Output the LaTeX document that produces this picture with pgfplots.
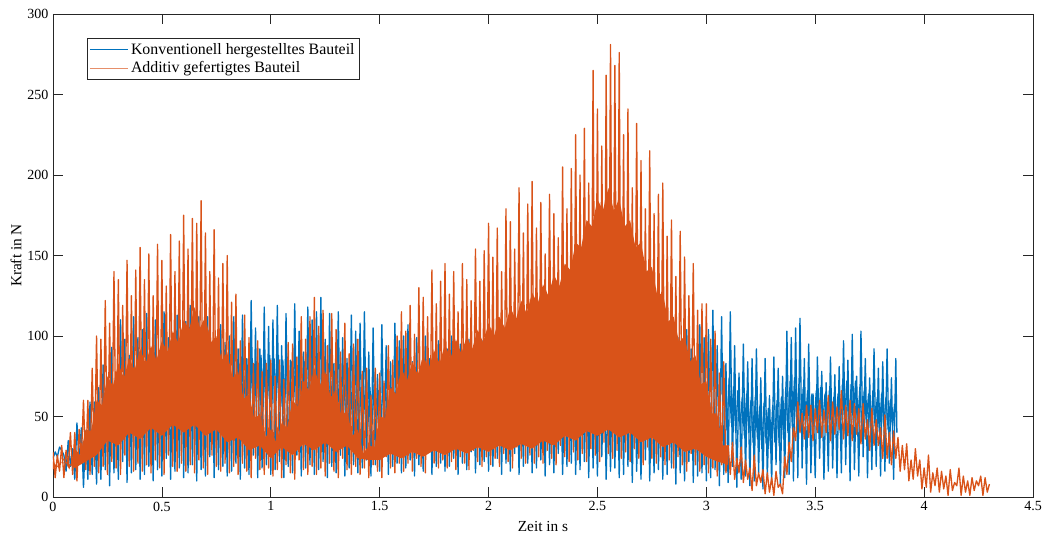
\documentclass[border=0pt]{standalone}
\usepackage{fontspec}
\setmainfont{Liberation Serif}
\usepackage{pgfplots}
\pgfplotsset{compat=1.18}
\definecolor{mblue}{HTML}{0072BD}
\definecolor{morange}{HTML}{D95319}
\definecolor{axgray}{HTML}{262626}
\begin{document}
\begin{tikzpicture}
\begin{axis}[
  scale only axis, width=735pt, height=362.25pt,
  xmin=0, xmax=4.5, ymin=0, ymax=300,
  xtick={0,0.5,1,1.5,2,2.5,3,3.5,4,4.5},
  ytick={0,50,100,150,200,250,300},
  tick align=inside, major tick length=7.35pt,
  axis line style={color=axgray, line width=0.5pt},
  tick style={color=axgray, line width=0.5pt},
  /pgf/number format/assume math mode=true,
  ticklabel style={font=\fontsize{10.5}{12}\selectfont, color=black},
  xlabel={Zeit in s}, ylabel={Kraft in N},
  label style={font=\fontsize{11.5}{13}\selectfont},
  xlabel style={at={(axis description cs:0.5,-0.062)}, anchor=center},
  ylabel style={at={(axis description cs:-0.0378,0.5)}, anchor=center},
  legend style={at={(axis description cs:0.0347,0.950)}, anchor=north west,
    draw=axgray, line width=0.5pt, font=\fontsize{11.9}{14}\selectfont,
    inner sep=1.5pt, fill=white},
  legend cell align=left,
  legend image code/.code={\draw[#1] (0cm,0cm) -- (1.0cm,0cm);},
]
% blue dense band 0.85-1.6
\addplot[mblue, line width=1.0pt, line join=round, forget plot] coordinates {
(0.855,72)(0.865,52)(0.875,78)(0.885,56)(0.895,82)(0.905,58)(0.915,86)(0.925,54)(0.935,84)(0.945,60)(0.955,88)(0.965,56)(0.975,85)(0.985,62)(0.995,88)(1.005,58)(1.015,86)(1.025,60)(1.035,88)(1.045,56)(1.055,85)(1.065,62)(1.075,87)(1.085,58)(1.095,84)(1.105,60)(1.115,86)(1.125,56)(1.135,82)(1.145,58)(1.155,84)(1.165,54)(1.175,80)(1.185,56)(1.195,82)(1.205,52)(1.215,78)(1.225,54)(1.235,80)(1.245,50)(1.255,76)(1.265,52)(1.275,74)(1.285,48)(1.295,76)(1.305,50)(1.315,72)(1.325,46)(1.335,74)(1.345,48)(1.355,70)(1.365,44)(1.375,72)(1.385,47)(1.395,70)(1.405,44)(1.415,68)(1.425,46)(1.435,70)(1.445,42)(1.455,68)(1.465,45)(1.475,70)(1.485,44)(1.495,66)(1.505,46)(1.515,68)(1.525,42)(1.535,66)(1.545,44)(1.555,64)(1.565,40)(1.575,66)(1.585,42)(1.595,62)
};
% blue dense band 3.08-3.87
\addplot[mblue, line width=1.0pt, line join=round, forget plot] coordinates {
(3.085,70)(3.095,42)(3.105,74)(3.115,46)(3.125,68)(3.135,40)(3.145,66)(3.155,44)(3.165,62)(3.175,38)(3.185,64)(3.195,40)(3.205,60)(3.215,34)(3.225,62)(3.235,36)(3.245,56)(3.255,30)(3.265,58)(3.275,33)(3.285,55)(3.295,30)(3.305,57)(3.315,34)(3.325,60)(3.335,32)(3.345,62)(3.355,36)(3.365,68)(3.375,40)(3.385,72)(3.395,44)(3.405,74)(3.415,46)(3.425,70)(3.435,42)(3.445,68)(3.455,45)(3.465,66)(3.475,40)(3.485,64)(3.495,44)(3.505,66)(3.515,40)(3.525,68)(3.535,46)(3.545,64)(3.555,42)(3.565,66)(3.575,40)(3.585,62)(3.595,44)(3.605,64)(3.615,40)(3.625,70)(3.635,46)(3.645,72)(3.655,42)(3.665,70)(3.675,46)(3.685,72)(3.695,44)(3.705,68)(3.715,42)(3.725,66)(3.735,46)(3.745,64)(3.755,40)(3.765,66)(3.775,44)(3.785,62)(3.795,40)(3.805,64)(3.815,44)(3.825,62)(3.835,42)(3.845,60)(3.855,44)(3.865,58)
};
% blue signal
\addplot[mblue, line width=1.0pt, line join=round, forget plot] coordinates {
(0,24)(0.01,28)(0.02,25)(0.03,31)(0.04,29)(0.05,26)(0.06,16)(0.07,35)(0.08,19)(0.09,30)
(0.1,11)(0.11,46)(0.12,21)(0.13,43)(0.14,6)(0.15,41)(0.16,11)(0.17,59)(0.18,14)(0.19,59)
(0.2,8)(0.21,68)(0.22,11)(0.23,82)(0.24,17)(0.25,72)(0.26,7)(0.27,93)(0.28,15)(0.29,74)
(0.3,11)(0.31,110)(0.32,22)(0.33,98)(0.34,9)(0.35,88)(0.36,15)(0.37,112)(0.38,17)(0.39,99)
(0.4,11)(0.41,104)(0.42,14)(0.43,114)(0.44,19)(0.45,92)(0.46,10)(0.47,110)(0.48,17)(0.49,82)
(0.5,13)(0.51,115)(0.52,24)(0.53,99)(0.54,11)(0.55,86)(0.56,16)(0.57,113)(0.58,18)(0.59,103)
(0.6,12)(0.61,109)(0.62,15)(0.63,119)(0.64,20)(0.65,96)(0.66,10)(0.67,112)(0.68,17)(0.69,81)
(0.7,13)(0.71,112)(0.72,25)(0.73,96)(0.74,12)(0.75,84)(0.76,17)(0.77,107)(0.78,19)(0.79,96)
(0.8,13)(0.81,100)(0.82,16)(0.83,112)(0.84,21)(0.85,92)(0.86,11)(0.87,113)(0.88,18)(0.89,86)
(0.9,14)(0.91,122)(0.92,26)(0.93,105)(0.94,12)(0.95,92)(0.96,18)(0.97,118)(0.98,20)(0.99,106)
(1,14)(1.01,110)(1.02,17)(1.03,119)(1.04,22)(1.05,94)(1.06,12)(1.07,114)(1.08,19)(1.09,85)
(1.1,15)(1.11,120)(1.12,26)(1.13,103)(1.14,13)(1.15,90)(1.16,18)(1.17,118)(1.18,20)(1.19,110)
(1.2,14)(1.21,115)(1.22,17)(1.23,124)(1.24,22)(1.25,98)(1.26,12)(1.27,114)(1.28,19)(1.29,83)
(1.3,15)(1.31,115)(1.32,26)(1.33,99)(1.34,13)(1.35,86)(1.36,18)(1.37,113)(1.38,20)(1.39,103)
(1.4,15)(1.41,108)(1.42,18)(1.43,115)(1.44,23)(1.45,90)(1.46,13)(1.47,105)(1.48,20)(1.49,76)
(1.5,16)(1.51,107)(1.52,27)(1.53,94)(1.54,14)(1.55,84)(1.56,19)(1.57,108)(1.58,21)(1.59,97)
(1.6,15)(1.61,100)(1.62,18)(1.63,107)(1.64,23)(1.65,84)(1.66,13)(1.67,99)(1.68,20)(1.69,72)
(1.7,16)(1.71,100)(1.72,27)(1.73,86)(1.74,14)(1.75,76)(1.76,19)(1.77,97)(1.78,21)(1.79,88)
(1.8,16)(1.81,92)(1.82,19)(1.83,100)(1.84,24)(1.85,80)(1.86,14)(1.87,95)(1.88,21)(1.89,70)
(1.9,17)(1.91,98)(1.92,28)(1.93,85)(1.94,15)(1.95,75)(1.96,20)(1.97,97)(1.98,22)(1.99,88)
(2,16)(2.01,92)(2.02,19)(2.03,100)(2.04,24)(2.05,80)(2.06,14)(2.07,95)(2.08,21)(2.09,70)
(2.1,16)(2.11,98)(2.12,27)(2.13,85)(2.14,14)(2.15,75)(2.16,19)(2.17,97)(2.18,21)(2.19,88)
(2.2,15)(2.21,92)(2.22,18)(2.23,100)(2.24,23)(2.25,80)(2.26,13)(2.27,95)(2.28,20)(2.29,70)
(2.3,15)(2.31,98)(2.32,27)(2.33,85)(2.34,14)(2.35,75)(2.36,19)(2.37,97)(2.38,21)(2.39,88)
(2.4,14)(2.41,92)(2.42,17)(2.43,100)(2.44,22)(2.45,80)(2.46,12)(2.47,95)(2.48,18)(2.49,70)
(2.5,13)(2.51,98)(2.52,25)(2.53,85)(2.54,11)(2.55,75)(2.56,16)(2.57,97)(2.58,18)(2.59,88)
(2.6,12)(2.61,92)(2.62,14)(2.63,100)(2.64,19)(2.65,80)(2.66,9)(2.67,95)(2.68,16)(2.69,70)
(2.7,11)(2.71,98)(2.72,23)(2.73,85)(2.74,10)(2.75,75)(2.76,15)(2.77,97)(2.78,17)(2.79,88)
(2.8,11)(2.81,94)(2.82,14)(2.83,103)(2.84,18)(2.85,83)(2.86,8)(2.87,99)(2.88,15)(2.89,74)
(2.9,10)(2.91,104)(2.92,22)(2.93,92)(2.94,9)(2.95,82)(2.96,13)(2.97,107)(2.98,15)(2.99,99)
(3,10)(3.01,104)(3.02,12)(3.03,116)(3.04,17)(3.05,94)(3.06,7)(3.07,112)(3.08,14)(3.09,83)
(3.1,9)(3.11,115)(3.12,19)(3.13,94)(3.14,6)(3.15,77)(3.16,11)(3.17,95)(3.18,13)(3.19,84)
(3.2,7)(3.21,86)(3.22,10)(3.23,92)(3.24,15)(3.25,74)(3.26,5)(3.27,86)(3.28,12)(3.29,63)
(3.3,8)(3.31,87)(3.32,20)(3.33,80)(3.34,7)(3.35,75)(3.36,12)(3.37,103)(3.38,14)(3.39,99)
(3.4,10)(3.41,105)(3.42,12)(3.43,111)(3.44,18)(3.45,86)(3.46,8)(3.47,95)(3.48,15)(3.49,64)
(3.5,12)(3.51,87)(3.52,24)(3.53,78)(3.54,11)(3.55,71)(3.56,16)(3.57,87)(3.58,18)(3.59,76)
(3.6,12)(3.61,81)(3.62,15)(3.63,97)(3.64,20)(3.65,85)(3.66,10)(3.67,101)(3.68,17)(3.69,75)
(3.7,13)(3.71,103)(3.72,25)(3.73,86)(3.74,12)(3.75,74)(3.76,17)(3.77,92)(3.78,19)(3.79,80)
(3.8,13)(3.81,84)(3.82,16)(3.83,92)(3.84,21)(3.85,74)(3.86,11)(3.87,86)(3.875,40)
};
% orange dense core
\addplot[fill=morange, draw=none, forget plot] coordinates {
(0,22)(0.025,18)(0.05,24)(0.075,17)(0.1,30)(0.125,26)(0.15,42)(0.175,41)(0.2,60)(0.225,57)(0.25,75)(0.275,69)(0.3,83)(0.325,74)(0.35,86)(0.375,79)(0.4,92)(0.425,83)(0.45,94)(0.475,85)(0.5,97)(0.525,90)(0.55,103)(0.575,96)(0.6,110)(0.625,104)(0.65,118)(0.675,105)(0.7,112)(0.725,96)(0.75,100)(0.775,85)(0.8,90)(0.825,74)(0.85,78)(0.875,61)(0.9,64)(0.925,48)(0.95,52)(0.975,37)(1,42)(1.025,34)(1.05,46)(1.075,43)(1.1,60)(1.125,56)(1.15,72)(1.175,66)(1.2,80)(1.225,69)(1.25,78)(1.275,62)(1.3,66)(1.325,50)(1.35,54)(1.375,38)(1.4,42)(1.425,27)(1.45,32)(1.475,31)(1.5,50)(1.525,49)(1.55,68)(1.575,64)(1.6,80)(1.625,72)(1.65,84)(1.675,76)(1.7,88)(1.725,80)(1.75,91)(1.775,83)(1.8,95)(1.825,86)(1.85,98)(1.875,89)(1.9,100)(1.925,92)(1.95,104)(1.975,96)(2,108)(2.025,100)(2.05,112)(2.075,105)(2.1,118)(2.125,110)(2.15,122)(2.175,114)(2.2,127)(2.225,120)(2.25,132)(2.275,125)(2.3,138)(2.325,131)(2.35,145)(2.375,141)(2.4,158)(2.425,155)(2.45,172)(2.475,168)(2.5,185)(2.525,178)(2.55,192)(2.575,178)(2.6,185)(2.625,168)(2.65,172)(2.675,155)(2.7,158)(2.725,140)(2.75,143)(2.775,125)(2.8,127)(2.825,109)(2.85,112)(2.875,96)(2.9,100)(2.925,84)(2.95,88)(2.975,70)(3,72)(3.025,52)(3.05,52)(3.075,32)(3.1,32)
(3.1,20)(3.05,22)(3,25)(2.95,30)(2.9,28)(2.85,34)(2.8,31)(2.75,37)(2.7,34)(2.65,40)(2.6,37)(2.55,42)(2.5,38)(2.45,41)(2.4,35)(2.35,38)(2.3,32)(2.25,35)(2.2,30)(2.15,33)(2.1,29)(2.05,32)(2,28)(1.95,31)(1.9,27)(1.85,30)(1.8,26)(1.75,29)(1.7,25)(1.65,28)(1.6,24)(1.55,27)(1.5,23)(1.45,23)(1.4,24)(1.35,32)(1.3,28)(1.25,34)(1.2,29)(1.15,33)(1.1,26)(1.05,31)(1,24)(0.95,32)(0.9,29)(0.85,37)(0.8,34)(0.75,42)(0.7,38)(0.65,45)(0.6,40)(0.55,45)(0.5,38)(0.45,43)(0.4,36)(0.35,40)(0.3,32)(0.25,35)(0.2,26)(0.15,22)(0.1,18)(0.05,23)(0,17)
};
% orange signal
\addplot[morange, line width=1.0pt, line join=round, forget plot] coordinates {
(0,28)(0.01,12)(0.02,26)(0.03,16)(0.04,32)(0.05,12)(0.06,29)(0.07,19)(0.08,40)(0.09,14)
(0.1,40)(0.11,10)(0.12,42)(0.13,23)(0.14,60)(0.15,17)(0.16,60)(0.17,14)(0.18,80)(0.19,19)
(0.2,100)(0.21,15)(0.22,98)(0.23,19)(0.24,122)(0.25,14)(0.26,108)(0.27,22)(0.28,140)(0.29,18)
(0.3,135)(0.31,14)(0.32,119)(0.33,26)(0.34,147)(0.35,19)(0.36,125)(0.37,16)(0.38,141)(0.39,21)
(0.4,155)(0.41,16)(0.42,135)(0.43,20)(0.44,151)(0.45,15)(0.46,125)(0.47,23)(0.48,157)(0.49,18)
(0.5,147)(0.51,14)(0.52,131)(0.53,26)(0.54,163)(0.55,19)(0.56,140)(0.57,16)(0.58,159)(0.59,21)
(0.6,175)(0.61,16)(0.62,154)(0.63,20)(0.64,173)(0.65,15)(0.66,170)(0.67,23)(0.68,184)(0.69,18)
(0.7,164)(0.71,14)(0.72,140)(0.73,26)(0.74,166)(0.75,19)(0.76,136)(0.77,16)(0.78,145)(0.79,21)
(0.8,150)(0.81,15)(0.82,121)(0.83,19)(0.84,126)(0.85,14)(0.86,97)(0.87,21)(0.88,113)(0.89,16)
(0.9,99)(0.91,12)(0.92,83)(0.93,24)(0.94,97)(0.95,17)(0.96,78)(0.97,14)(0.98,83)(0.99,18)
(1,85)(1.01,13)(1.02,75)(1.03,17)(1.04,85)(1.05,12)(1.06,73)(1.07,20)(1.08,96)(1.09,15)
(1.1,95)(1.11,11)(1.12,87)(1.13,23)(1.14,112)(1.15,17)(1.16,98)(1.17,14)(1.18,112)(1.19,19)
(1.2,124)(1.21,14)(1.22,106)(1.23,18)(1.24,116)(1.25,13)(1.26,94)(1.27,21)(1.28,114)(1.29,16)
(1.3,104)(1.31,12)(1.32,90)(1.33,24)(1.34,108)(1.35,17)(1.36,89)(1.37,14)(1.38,95)(1.39,19)
(1.4,98)(1.41,14)(1.42,78)(1.43,18)(1.44,80)(1.45,12)(1.46,63)(1.47,20)(1.48,80)(1.49,16)
(1.5,77)(1.51,12)(1.52,72)(1.53,25)(1.54,94)(1.55,18)(1.56,85)(1.57,15)(1.58,100)(1.59,21)
(1.6,115)(1.61,16)(1.62,103)(1.63,21)(1.64,119)(1.65,16)(1.66,101)(1.67,24)(1.68,130)(1.69,19)
(1.7,124)(1.71,15)(1.72,112)(1.73,28)(1.74,141)(1.75,21)(1.76,120)(1.77,18)(1.78,134)(1.79,23)
(1.8,145)(1.81,18)(1.82,126)(1.83,22)(1.84,140)(1.85,17)(1.86,115)(1.87,25)(1.88,145)(1.89,21)
(1.9,135)(1.91,17)(1.92,122)(1.93,29)(1.94,154)(1.95,22)(1.96,134)(1.97,19)(1.98,153)(1.99,25)
(2,170)(2.01,20)(2.02,149)(2.03,24)(2.04,167)(2.05,19)(2.06,140)(2.07,27)(2.08,179)(2.09,22)
(2.1,171)(2.11,18)(2.12,154)(2.13,31)(2.14,192)(2.15,24)(2.16,164)(2.17,21)(2.18,182)(2.19,26)
(2.2,196)(2.21,21)(2.22,167)(2.23,25)(2.24,183)(2.25,21)(2.26,151)(2.27,29)(2.28,188)(2.29,24)
(2.3,176)(2.31,20)(2.32,161)(2.33,32)(2.34,205)(2.35,25)(2.36,179)(2.37,22)(2.38,204)(2.39,28)
(2.4,225)(2.41,23)(2.42,200)(2.43,27)(2.44,229)(2.45,22)(2.46,195)(2.47,30)(2.48,265)(2.49,26)
(2.5,241)(2.51,22)(2.52,218)(2.53,34)(2.54,262)(2.55,27)(2.56,281)(2.57,24)(2.58,268)(2.59,29)
(2.6,276)(2.61,24)(2.62,225)(2.63,28)(2.64,241)(2.65,22)(2.66,192)(2.67,30)(2.68,232)(2.69,24)
(2.7,209)(2.71,20)(2.72,179)(2.73,31)(2.74,215)(2.75,24)(2.76,176)(2.77,21)(2.78,188)(2.79,25)
(2.8,195)(2.81,20)(2.82,162)(2.83,23)(2.84,172)(2.85,18)(2.86,137)(2.87,25)(2.88,165)(2.89,20)
(2.9,149)(2.91,16)(2.92,125)(2.93,27)(2.94,145)(2.95,20)(2.96,116)(2.97,16)(2.98,120)(2.99,20)
(3,120)(3.01,15)(3.02,98)(3.03,18)(3.04,103)(3.05,13)(3.06,77)(3.07,20)(3.08,84)(3.09,15)
(3.1,32)(3.11,14)(3.12,34)(3.13,11)(3.14,24)(3.15,15)(3.16,31)(3.17,9)(3.18,23)(3.19,11)
(3.2,18)(3.21,4)(3.22,26)(3.23,7)(3.24,15)(3.25,9)(3.26,17)(3.27,2)(3.28,15)(3.29,3)
(3.3,12)(3.31,1)(3.32,16)(3.33,6)(3.34,8)(3.35,2)(3.36,25)(3.37,14)(3.38,34)(3.39,22)
(3.4,43)(3.41,35)(3.42,59)(3.43,40)(3.44,52)(3.45,36)(3.46,57)(3.47,37)(3.48,57)(3.49,35)
(3.5,55)(3.51,40)(3.52,60)(3.53,37)(3.54,54)(3.55,40)(3.56,63)(3.57,35)(3.58,59)(3.59,39)
(3.6,56)(3.61,42)(3.62,66)(3.63,36)(3.64,57)(3.65,38)(3.66,60)(3.67,35)(3.68,58)(3.69,39)
(3.7,55)(3.71,33)(3.72,58)(3.73,36)(3.74,48)(3.75,29)(3.76,55)(3.77,32)(3.78,48)(3.79,32)
(3.8,43)(3.81,24)(3.82,51)(3.83,24)(3.84,40)(3.85,20)(3.86,41)(3.87,24)(3.88,37)(3.89,16)
(3.9,32)(3.91,17)(3.92,33)(3.93,10)(3.94,23)(3.95,11)(3.96,30)(3.97,13)(3.98,23)(3.99,5)
(4,18)(4.01,6)(4.02,26)(4.03,3)(4.04,15)(4.05,7)(4.06,18)(4.07,3)(4.08,16)(4.09,5)
(4.1,13)(4.11,1)(4.12,17)(4.13,4)(4.14,9)(4.15,7)(4.16,18)(4.17,1)(4.18,13)(4.19,3)
(4.2,10)(4.21,1)(4.22,12)(4.23,4)(4.24,10)(4.25,7)(4.26,13)(4.27,1)(4.28,12)(4.29,3)(4.3,8)
};
\addlegendimage{draw=mblue, line width=0.8pt}
\addlegendentry{Konventionell hergestelltes Bauteil}
\addlegendimage{draw=morange!65!white, line width=0.8pt}
\addlegendentry{Additiv gefertigtes Bauteil}
\end{axis}
\pgfresetboundingbox
\path ([shift={(-39.75pt,-29.25pt)}]current axis.south west) rectangle ([shift={(7.5pt,10.5pt)}]current axis.north east);
\end{tikzpicture}
\end{document}
